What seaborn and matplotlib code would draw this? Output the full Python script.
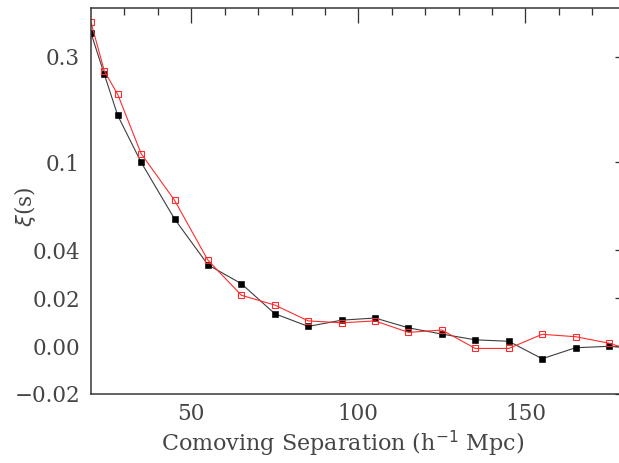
import numpy as np
import pandas as pd
import matplotlib
matplotlib.use("Agg")
import matplotlib.pyplot as plt
from matplotlib.ticker import FixedLocator, FixedFormatter, NullFormatter
import seaborn as sns

# Separation bins (h^-1 Mpc)
separation = [20, 24, 28, 35, 45, 55, 65, 75, 85, 95, 105, 115, 125,
              135, 145, 155, 165, 175, 185]
# Correlation function, filled black squares
xi_black = [0.385, 0.250, 0.163, 0.100, 0.0554, 0.0339, 0.0260, 0.0135,
            0.0082, 0.0108, 0.0117, 0.0076, 0.0050, 0.0026, 0.0020,
            -0.0053, -0.0007, -0.0001, -0.0012]
# Correlation function, open red squares
xi_red = [0.43, 0.259, 0.203, 0.1095, 0.0673, 0.0358, 0.0212, 0.0171,
          0.0105, 0.0097, 0.0105, 0.0057, 0.0067, -0.0010, -0.0010,
          0.0049, 0.0039, 0.0012, -0.0033]

y_major = [-0.02, 0.0, 0.02, 0.04, 0.1, 0.3]
y_major_labels = ["\u22120.02", "0.00", "0.02", "0.04", "0.1", "0.3"]
y_minor = [-0.01, 0.01, 0.03, 0.05, 0.06, 0.07, 0.08, 0.09, 0.2]
x_major = [50, 100, 150]
x_minor = [30, 40, 60, 70, 80, 90, 110, 120, 130, 140, 160, 170]

LIN = 0.04  # linear below, logarithmic above (smooth join)


def fwd(y):
    y = np.asarray(y, dtype=float)
    return np.where(y <= LIN, y, LIN * (1 + np.log(np.maximum(y, LIN) / LIN)))


def inv(v):
    v = np.asarray(v, dtype=float)
    return np.where(v <= LIN, v, LIN * np.exp(np.clip(v, LIN, 1.0) / LIN - 1))


df_black = pd.DataFrame({"s": separation, "xi": xi_black})
df_red = pd.DataFrame({"s": separation, "xi": xi_red})

sns.set_theme(style="white")
plt.rcParams["font.family"] = ["DejaVu Serif"]

PX = 72 / 100  # points per pixel at 100 dpi

fig = plt.figure(figsize=(6.19, 4.63), dpi=100)
ax = fig.add_axes([91 / 619, 69 / 463, 534.7 / 619, 386 / 463])
ax.set_yscale("function", functions=(fwd, inv))

text_col = "#454545"
sns.lineplot(data=df_black, x="s", y="xi", ax=ax, color="#3c3c3c",
             linewidth=1.1 * PX, marker="s", markersize=6.2 * PX,
             markerfacecolor="black", markeredgecolor="black",
             markeredgewidth=0.6 * PX, estimator=None, sort=False)
sns.lineplot(data=df_red, x="s", y="xi", ax=ax, color="#ff2a2a",
             linewidth=1.1 * PX, marker="s", markersize=5.8 * PX,
             markerfacecolor="none", markeredgecolor="#ff2a2a",
             markeredgewidth=1.1 * PX, estimator=None, sort=False)

ax.set_xlim(20, 180)
ax.set_ylim(-0.02, 0.5)

ax.yaxis.set_major_locator(FixedLocator(y_major))
ax.yaxis.set_major_formatter(FixedFormatter(y_major_labels))
ax.yaxis.set_minor_locator(FixedLocator(y_minor))
ax.yaxis.set_minor_formatter(NullFormatter())
ax.xaxis.set_major_locator(FixedLocator(x_major))
ax.xaxis.set_minor_locator(FixedLocator(x_minor))
ax.xaxis.set_minor_formatter(NullFormatter())

for sp in ax.spines.values():
    sp.set_visible(True)
    sp.set_color("#333333")
    sp.set_linewidth(1.5 * PX)

ax.tick_params(axis="both", which="both", direction="in", top=True,
               right=True, color="#333333", width=1.3 * PX,
               labelcolor=text_col, labelsize=15.5)
ax.tick_params(axis="x", which="major", length=15 * PX, pad=9 * PX)
ax.tick_params(axis="x", which="minor", length=7.3 * PX)
ax.tick_params(axis="y", which="major", length=11 * PX, pad=11 * PX)
ax.tick_params(axis="y", which="minor", length=5.7 * PX)

ax.set_xlabel("Comoving Separation (h$^{-1}$ Mpc)", fontsize=16,
              color=text_col, va="center")
ax.xaxis.set_label_coords(0.470, -0.130)
ax.set_ylabel("$\\xi$(s)", fontsize=15.5, color=text_col, va="center")
ax.yaxis.set_label_coords(-0.1234, 0.485)

fig.savefig("out.png", dpi=100)
